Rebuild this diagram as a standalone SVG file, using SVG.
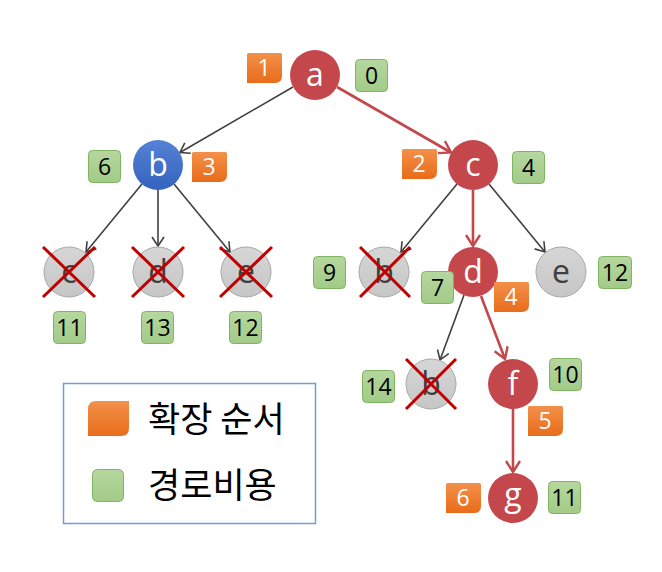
<svg xmlns="http://www.w3.org/2000/svg" width="662" height="572" viewBox="0 0 662 572">
<defs>
<linearGradient id="gOr" x1="0" y1="0" x2="0" y2="1"><stop offset="0" stop-color="#f3904a"/><stop offset="1" stop-color="#e86c1a"/></linearGradient>
<linearGradient id="gGr" x1="0" y1="0" x2="0" y2="1"><stop offset="0" stop-color="#b6d7a0"/><stop offset="1" stop-color="#a2cb87"/></linearGradient>
<linearGradient id="gBl" x1="0" y1="0" x2="0" y2="1"><stop offset="0" stop-color="#5582d4"/><stop offset="1" stop-color="#3562be"/></linearGradient>
<linearGradient id="gGy" x1="0" y1="0" x2="0" y2="1"><stop offset="0" stop-color="#d6d6d6"/><stop offset="1" stop-color="#c6c6c6"/></linearGradient>
<marker id="ab" markerWidth="14" markerHeight="14" refX="11" refY="7" orient="auto" markerUnits="userSpaceOnUse"><path d="M2,1 L11,7 L2,13" fill="none" stroke="#404040" stroke-width="1.6"/></marker>
<marker id="ar" markerWidth="16" markerHeight="16" refX="13" refY="8" orient="auto" markerUnits="userSpaceOnUse"><path d="M2,1 L13,8 L2,15" fill="none" stroke="#c4474b" stroke-width="2.4"/></marker>
<path id="orShape" d="M1.5,0 H33.5 Q35,0 35,1.5 V23 Q35,30 28,30 H0 V1.5 Q0,0 1.5,0 Z"/>
</defs>
<style>
.red{fill:#c4474b}
.blue{fill:url(#gBl)}
.grey{fill:url(#gGy);stroke:#a8a8a8;stroke-width:1}
.nl{font-family:"Open Sans","Noto Sans","DejaVu Sans",sans-serif;font-size:32px;text-anchor:middle;fill:#ffffff}
.gl{fill:#404040}
.or{fill:url(#gOr)}
.gr{fill:url(#gGr);stroke:#7fb560;stroke-width:1}
.num{font-family:"Open Sans","Noto Sans","DejaVu Sans",sans-serif;font-size:23px;text-anchor:middle}
.wn{fill:#ffffff}
.bn{fill:#000000}
.eb{stroke:#404040;stroke-width:1.6;fill:none;marker-end:url(#ab)}
.er{stroke:#c4474b;stroke-width:2.6;fill:none;marker-end:url(#ar)}
.x{stroke:#c00000;stroke-width:3}
.leg{font-family:"Noto Sans CJK KR","Noto Sans",sans-serif;font-size:35px;fill:#000000}
</style>
<g id="connectors">
<line class="eb" x1="293" y1="87" x2="180" y2="152.5"/>
<line class="er" x1="337" y1="87" x2="451" y2="152.5"/>
<line class="eb" x1="142" y1="184" x2="86" y2="252"/>
<line class="eb" x1="158" y1="190" x2="158" y2="246"/>
<line class="eb" x1="174" y1="184" x2="230" y2="252"/>
<line class="eb" x1="457" y1="184" x2="401" y2="252"/>
<line class="er" x1="473" y1="190" x2="473" y2="246"/>
<line class="eb" x1="489" y1="184" x2="545" y2="252"/>
<line class="eb" x1="464" y1="295" x2="440" y2="360"/>
<line class="er" x1="481" y1="296" x2="505" y2="359"/>
<line class="er" x1="513" y1="409" x2="513" y2="472"/>
</g>
<g id="node-a">
<circle class="red" cx="315" cy="75" r="25"/><text class="nl" x="315" y="86">a</text>
<use href="#orShape" class="or" x="247" y="53"/><text class="num wn" x="264" y="76">1</text>
<rect class="gr" x="355.5" y="59.5" width="32" height="32" rx="4"/><text class="num bn" x="371.5" y="84">0</text>
</g>
<g id="node-b">
<circle class="blue" cx="158" cy="165" r="25"/><text class="nl" x="158" y="176">b</text>
<rect class="gr" x="88.5" y="150.5" width="32" height="32" rx="4"/><text class="num bn" x="104.5" y="175">6</text>
<use href="#orShape" class="or" x="192" y="152"/><text class="num wn" x="209" y="175">3</text>
</g>
<g id="node-c">
<circle class="red" cx="473" cy="165" r="25"/><text class="nl" x="473" y="176">c</text>
<use href="#orShape" class="or" x="402" y="149"/><text class="num wn" x="419" y="172">2</text>
<rect class="gr" x="512.5" y="151.5" width="32" height="32" rx="4"/><text class="num bn" x="528.5" y="176">4</text>
</g>
<g id="node-bc">
<circle class="grey" cx="69" cy="272" r="25"/><text class="nl gl" x="69" y="283">c</text>
<line class="x" x1="43" y1="247" x2="95" y2="297"/><line class="x" x1="95" y1="247" x2="43" y2="297"/>
<rect class="gr" x="53.5" y="311.5" width="32" height="32" rx="4"/><text class="num bn" x="69.5" y="336">11</text>
</g>
<g id="node-bd">
<circle class="grey" cx="158" cy="272" r="25"/><text class="nl gl" x="158" y="283">d</text>
<line class="x" x1="132" y1="247" x2="184" y2="297"/><line class="x" x1="184" y1="247" x2="132" y2="297"/>
<rect class="gr" x="141.5" y="311.5" width="32" height="32" rx="4"/><text class="num bn" x="157.5" y="336">13</text>
</g>
<g id="node-be">
<circle class="grey" cx="246" cy="272" r="25"/><text class="nl gl" x="246" y="283">e</text>
<line class="x" x1="220" y1="247" x2="272" y2="297"/><line class="x" x1="272" y1="247" x2="220" y2="297"/>
<rect class="gr" x="229.5" y="311.5" width="32" height="32" rx="4"/><text class="num bn" x="245.5" y="336">12</text>
</g>
<g id="node-cb">
<circle class="grey" cx="384" cy="272" r="25"/><text class="nl gl" x="384" y="283">b</text>
<line class="x" x1="360" y1="247" x2="410" y2="297"/><line class="x" x1="410" y1="247" x2="360" y2="297"/>
<rect class="gr" x="313.5" y="256.5" width="32" height="32" rx="4"/><text class="num bn" x="329.5" y="281">9</text>
</g>
<g id="node-d">
<circle class="red" cx="473" cy="272" r="25"/><text class="nl" x="473" y="283">d</text>
<rect class="gr" x="421.5" y="271.5" width="32" height="32" rx="4"/><text class="num bn" x="437.5" y="296">7</text>
<use href="#orShape" class="or" x="494" y="282"/><text class="num wn" x="511" y="305">4</text>
</g>
<g id="node-ce">
<circle class="grey" cx="561" cy="272" r="25"/><text class="nl gl" x="561" y="283">e</text>
<rect class="gr" x="598.5" y="256.5" width="33" height="32" rx="4"/><text class="num bn" x="615" y="281">12</text>
</g>
<g id="node-db">
<circle class="grey" cx="431" cy="384" r="25"/><text class="nl gl" x="431" y="395">b</text>
<line class="x" x1="406" y1="359" x2="456" y2="409"/><line class="x" x1="456" y1="359" x2="406" y2="409"/>
<rect class="gr" x="362.5" y="370.5" width="32" height="32" rx="4"/><text class="num bn" x="378.5" y="395">14</text>
</g>
<g id="node-f">
<circle class="red" cx="513" cy="384" r="25"/><text class="nl" x="513" y="395">f</text>
<rect class="gr" x="549.5" y="358.5" width="32" height="32" rx="4"/><text class="num bn" x="565.5" y="383">10</text>
<use href="#orShape" class="or" x="528" y="406"/><text class="num wn" x="545" y="429">5</text>
</g>
<g id="node-g">
<circle class="red" cx="513" cy="498" r="25"/><text class="nl" x="513" y="506">g</text>
<use href="#orShape" class="or" x="446" y="483"/><text class="num wn" x="463" y="506">6</text>
<rect class="gr" x="548.5" y="481.5" width="32" height="32" rx="4"/><text class="num bn" x="564.5" y="506">11</text>
</g>
<g id="legend">
<rect x="63.5" y="383.5" width="252" height="140" fill="#ffffff" stroke="#6f9fd8" stroke-width="1.5"/>
<path class="or" d="M96,401 H129 V428 Q129,436 121,436 H88 V409 Q88,401 96,401 Z"/>
<text class="leg" x="148" y="432">확장 순서</text>
<rect class="gr" x="92.5" y="469.5" width="31" height="32" rx="5"/>
<text class="leg" x="148" y="498">경로비용</text>
</g>
</svg>
